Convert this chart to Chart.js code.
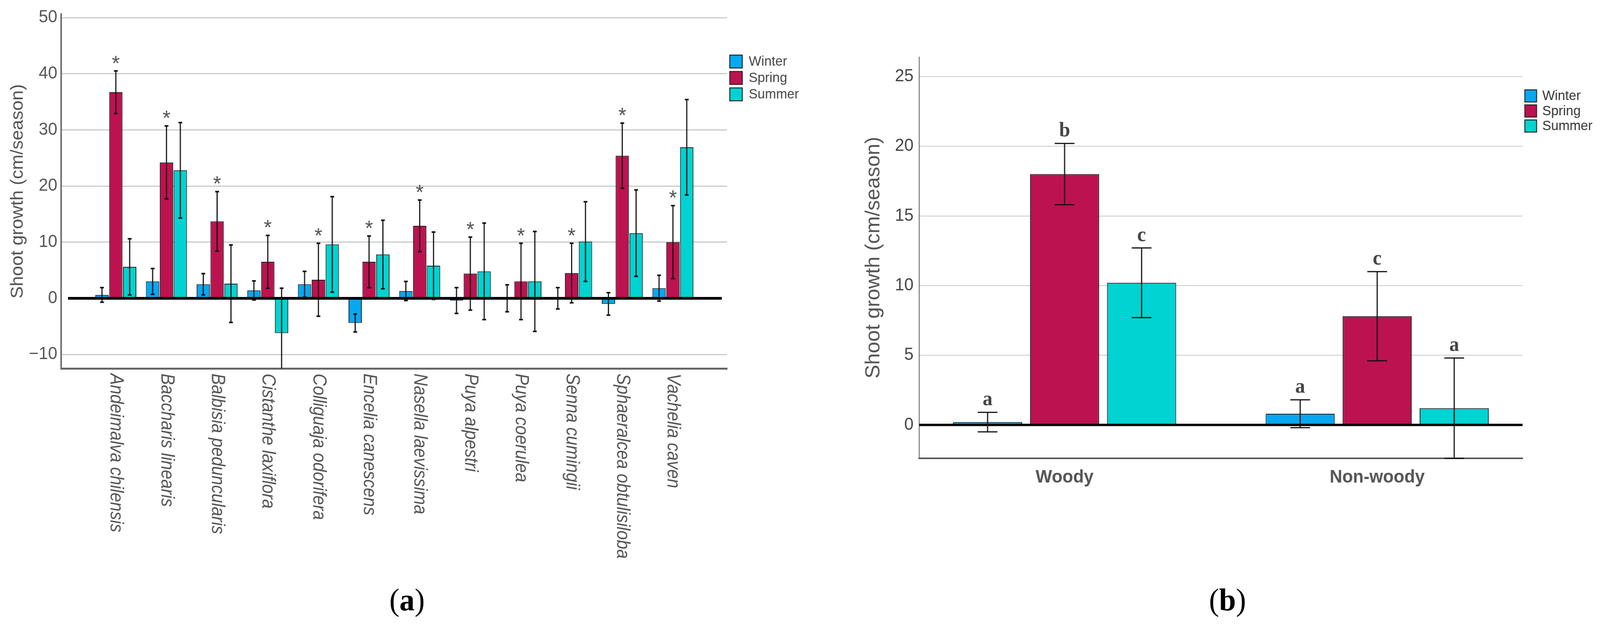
<!DOCTYPE html>
<html>
<head>
<meta charset="utf-8">
<title>Shoot growth per season</title>
<script src="https://cdn.jsdelivr.net/npm/chart.js@4.4.1/dist/chart.umd.min.js"></script>
<style>
  html, body { margin: 0; padding: 0; background: #fff; overflow: hidden; }
  #stage { width: 4214px; height: 1597px; position: relative; transform-origin: 0 0; }
  canvas { position: absolute; top: 0; }
  #chartA { left: 0; }
  #chartB { left: 2200px; }
  .panel { position: absolute; font-family: 'Liberation Serif', 'DejaVu Serif', serif; font-size: 80px; line-height: 1; transform: translate(-50%, -50%); color: #000; }
</style>
</head>
<body>
<div id="stage">
<canvas id="chartA" width="2200" height="1597"></canvas>
<canvas id="chartB" width="2014" height="1597"></canvas>
<div class="panel" style="left:1072px; top:1535px;">(<b>a</b>)</div>
<div class="panel" style="left:3233px; top:1535px;">(<b>b</b>)</div>
</div>
<script>
var seasons = ['Winter', 'Spring', 'Summer'];
var seasonColors = ['#06a8f2', '#bd1250', '#00d3d1'];

// panel (a): species
var species = ['Andeimalva chilensis', 'Baccharis linearis', 'Balbisia peduncularis', 'Cistanthe laxiflora',
    'Colliguaja odorifera', 'Encelia canescens', 'Nasella laevissima', 'Puya alpestri',
    'Puya coerulea', 'Senna cumingii', 'Sphaeralcea obtulisiloba', 'Vachelia caven'];
var winterA = [0.6, 3.0, 2.5, 1.4, 2.5, -4.4, 1.3, -0.4, 0, 0, -1.0, 1.8];
var winterErrA = [1.3, 2.3, 1.9, 1.7, 2.3, 1.6, 1.7, 2.3, 2.4, 1.9, 2.0, 2.3];
var springA = [36.7, 24.2, 13.7, 6.5, 3.3, 6.5, 12.9, 4.4, 3.0, 4.5, 25.4, 10.0];
var springErrA = [3.8, 6.5, 5.3, 4.7, 6.5, 4.6, 4.6, 6.5, 6.8, 5.3, 5.8, 6.5];
var summerA = [5.6, 22.8, 2.6, -6.2, 9.6, 7.8, 5.8, 4.8, 3.0, 10.1, 11.6, 26.9];
var summerErrA = [5.0, 8.5, 6.9, 8.0, 8.5, 6.1, 6.0, 8.6, 8.9, 7.1, 7.7, 8.5];
var springMarksA = ['*', '*', '*', '*', '*', '*', '*', '*', '*', '*', '*', '*'];
var yTicksA = [-10, 0, 10, 20, 30, 40, 50];

// panel (b): growth form
var groups = ['Woody', 'Non-woody'];
var winterB = [0.2, 0.8];
var winterErrB = [0.7, 1.0];
var springB = [18.0, 7.8];
var springErrB = [2.2, 3.2];
var summerB = [10.2, 1.2];
var summerErrB = [2.5, 3.6];
var winterLettersB = ['a', 'a'];
var springLettersB = ['b', 'c'];
var summerLettersB = ['c', 'a'];
var yTicksB = [0, 5, 10, 15, 20, 25];

var sans = "'Liberation Sans', Arial, sans-serif";
var serif = "'Liberation Serif', 'Times New Roman', serif";

// the window may be narrower than the 4214px figure: stretch the stage to fill it
var sx = window.innerWidth / 4214, sy = window.innerHeight / 1597;
if (Math.abs(sx - 1) > 0.002 || Math.abs(sy - 1) > 0.002) {
    document.getElementById('stage').style.transform = 'scale(' + sx + ',' + sy + ')';
}

function makeSet(k, values, errors, marks) {
    return {
        label: seasons[k],
        data: values.map(function (v, i) { return { x: i, y: v }; }),
        errors: errors,
        marks: marks || null,
        backgroundColor: seasonColors[k],
        borderColor: '#1c1c1c',
        borderWidth: 2
    };
}

// thick black line at zero
var zeroLine = {
    id: 'zeroLine',
    afterDatasetsDraw: function (chart, args, opts) {
        var ctx = chart.ctx, a = chart.chartArea;
        var y0 = chart.scales.y.getPixelForValue(0);
        ctx.save();
        ctx.strokeStyle = '#000';
        ctx.lineWidth = opts.width;
        ctx.beginPath();
        ctx.moveTo(a.left + opts.inLeft, y0);
        ctx.lineTo(a.right - opts.inRight, y0);
        ctx.stroke();
        ctx.restore();
    }
};

// +/- SE whiskers plus the marks above them
var errorBars = {
    id: 'errorBars',
    afterDatasetsDraw: function (chart, args, opts) {
        var ctx = chart.ctx, ys = chart.scales.y;
        ctx.save();
        chart.data.datasets.forEach(function (ds, di) {
            var meta = chart.getDatasetMeta(di);
            meta.data.forEach(function (bar, i) {
                var v = ds.data[i].y, e = ds.errors[i];
                var hi = v + e, lo = v - e;
                var loClip = lo < ys.min - 0.01;
                var top = ys.getPixelForValue(hi);
                var bot = ys.getPixelForValue(loClip ? ys.min : lo);
                ctx.strokeStyle = '#111';
                ctx.fillStyle = '#111';
                ctx.lineWidth = opts.width;
                ctx.beginPath();
                ctx.moveTo(bar.x, top);
                ctx.lineTo(bar.x, bot);
                ctx.stroke();
                ctx.fillRect(bar.x - opts.cap / 2, top - opts.capH / 2, opts.cap, opts.capH);
                if (!loClip) ctx.fillRect(bar.x - opts.cap / 2, bot - opts.capH / 2, opts.cap, opts.capH);
                if (ds.marks && ds.marks[i]) {
                    ctx.font = opts.markFont;
                    ctx.fillStyle = opts.markColor;
                    ctx.textAlign = 'center';
                    ctx.textBaseline = 'alphabetic';
                    ctx.fillText(ds.marks[i], bar.x, top - opts.markGap);
                }
            });
        });
        ctx.restore();
    }
};

// category names written downwards under panel (a)
var downLabels = {
    id: 'downLabels',
    afterDraw: function (chart, args, opts) {
        if (!opts.labels) return;
        var ctx = chart.ctx, xs = chart.scales.x;
        ctx.save();
        ctx.font = opts.font;
        ctx.fillStyle = opts.color;
        ctx.textAlign = 'left';
        ctx.textBaseline = 'middle';
        opts.labels.forEach(function (name, i) {
            ctx.save();
            ctx.translate(xs.getPixelForValue(i), chart.chartArea.bottom + opts.gap);
            ctx.rotate(Math.PI / 2);
            ctx.scale(opts.squeeze, 1);
            ctx.fillText(name, 0, 0);
            ctx.restore();
        });
        ctx.restore();
    }
};

// legend to the right of the grid
var sideLegend = {
    id: 'sideLegend',
    afterDraw: function (chart, args, opts) {
        var ctx = chart.ctx, a = chart.chartArea;
        ctx.save();
        ctx.font = opts.font;
        ctx.textAlign = 'left';
        ctx.textBaseline = 'middle';
        chart.data.datasets.forEach(function (ds, i) {
            var bx = a.right + opts.dx, by = opts.top + i * opts.step;
            ctx.fillStyle = ds.backgroundColor;
            ctx.fillRect(bx, by, opts.box, opts.box);
            ctx.strokeStyle = '#222';
            ctx.lineWidth = 2.5;
            ctx.strokeRect(bx, by, opts.box, opts.box);
            ctx.fillStyle = opts.color;
            ctx.fillText(ds.label, bx + opts.box + opts.textGap, by + opts.box / 2 + 1);
        });
        ctx.restore();
    }
};

function gridColor(c) {
    return c.tick && c.tick.value === 0 ? 'rgba(0,0,0,0)' : '#cbcbcb';
}
function minusTick(v) {
    return v < 0 ? '\u2212' + (-v) : '' + v;
}

new Chart(document.getElementById('chartA'), {
    type: 'bar',
    data: {
        datasets: [
            makeSet(0, winterA, winterErrA),
            makeSet(1, springA, springErrA, springMarksA),
            makeSet(2, summerA, summerErrA)
        ]
    },
    options: {
        responsive: false,
        animation: false,
        devicePixelRatio: 1,
        layout: { padding: { top: 35, right: 285, left: 0, bottom: 0 } },
        datasets: { bar: { categoryPercentage: 0.82, barPercentage: 0.96 } },
        scales: {
            x: {
                type: 'linear',
                offset: false,
                min: -1.08,
                max: 12.07,
                afterBuildTicks: function (ax) { ax.ticks = species.map(function (s, i) { return { value: i }; }); },
                afterFit: function (ax) { ax.height = 654; },
                grid: { display: false, drawTicks: false },
                ticks: { display: false },
                border: { color: '#666', width: 5 }
            },
            y: {
                min: -12.5,
                max: 50.6,
                afterBuildTicks: function (ax) { ax.ticks = yTicksA.map(function (v) { return { value: v }; }); },
                afterFit: function (ax) { ax.width = 161; },
                grid: { color: gridColor, lineWidth: 3, drawTicks: false },
                border: { color: '#666', width: 4 },
                ticks: { font: { family: sans, size: 44 }, color: '#555', padding: 10, callback: minusTick },
                title: {
                    display: true,
                    text: 'Shoot growth (cm/season)',
                    font: { family: sans, size: 47 },
                    color: '#555',
                    padding: { top: 19, bottom: 0 }
                }
            }
        },
        plugins: {
            legend: { display: false },
            tooltip: { enabled: false },
            zeroLine: { width: 7, inLeft: 18, inRight: 14 },
            errorBars: { width: 3, cap: 10, capH: 4, markFont: '54px ' + sans, markColor: '#555', markGap: 2 },
            downLabels: { labels: species, font: 'italic 50px ' + sans, color: '#555', gap: 13, squeeze: 0.87 },
            sideLegend: { dx: 7, top: 141, step: 42, box: 33, textGap: 17, font: '35px ' + sans, color: '#444' }
        }
    },
    plugins: [zeroLine, errorBars, downLabels, sideLegend]
});

new Chart(document.getElementById('chartB'), {
    type: 'bar',
    data: {
        datasets: [
            makeSet(0, winterB, winterErrB, winterLettersB),
            makeSet(1, springB, springErrB, springLettersB),
            makeSet(2, summerB, summerErrB, summerLettersB)
        ]
    },
    options: {
        responsive: false,
        animation: false,
        devicePixelRatio: 1,
        layout: { padding: { top: 146, right: 204, left: 0, bottom: 0 } },
        datasets: { bar: { categoryPercentage: 0.739, barPercentage: 0.897 } },
        scales: {
            x: {
                type: 'linear',
                offset: false,
                min: -0.465,
                max: 1.465,
                afterBuildTicks: function (ax) { ax.ticks = groups.map(function (g, i) { return { value: i }; }); },
                afterFit: function (ax) { ax.height = 424; },
                grid: { display: false, drawTicks: false },
                ticks: {
                    font: { family: sans, size: 46, weight: 'bold' },
                    color: '#555',
                    padding: 22,
                    maxRotation: 0,
                    autoSkip: false,
                    callback: function (v) { return groups[v]; }
                },
                border: { color: '#555', width: 4 }
            },
            y: {
                min: -2.4,
                max: 26.4,
                afterBuildTicks: function (ax) { ax.ticks = yTicksB.map(function (v) { return { value: v }; }); },
                afterFit: function (ax) { ax.width = 221; },
                grid: { color: gridColor, lineWidth: 2, drawTicks: false },
                border: { color: '#555', width: 2 },
                ticks: { font: { family: sans, size: 44 }, color: '#444', padding: 15 },
                title: {
                    display: true,
                    text: 'Shoot growth (cm/season)',
                    font: { family: sans, size: 53 },
                    color: '#555',
                    padding: { top: 70, bottom: 0 }
                }
            }
        },
        plugins: {
            legend: { display: false },
            tooltip: { enabled: false },
            zeroLine: { width: 6, inLeft: 0, inRight: 0 },
            errorBars: { width: 3, cap: 52, capH: 3, markFont: 'bold 52px ' + serif, markColor: '#444', markGap: 18 },
            downLabels: {},
            sideLegend: { dx: 6, top: 230, step: 38.5, box: 31, textGap: 15, font: '35px ' + sans, color: '#333' }
        }
    },
    plugins: [zeroLine, errorBars, downLabels, sideLegend]
});
</script>
</body>
</html>
